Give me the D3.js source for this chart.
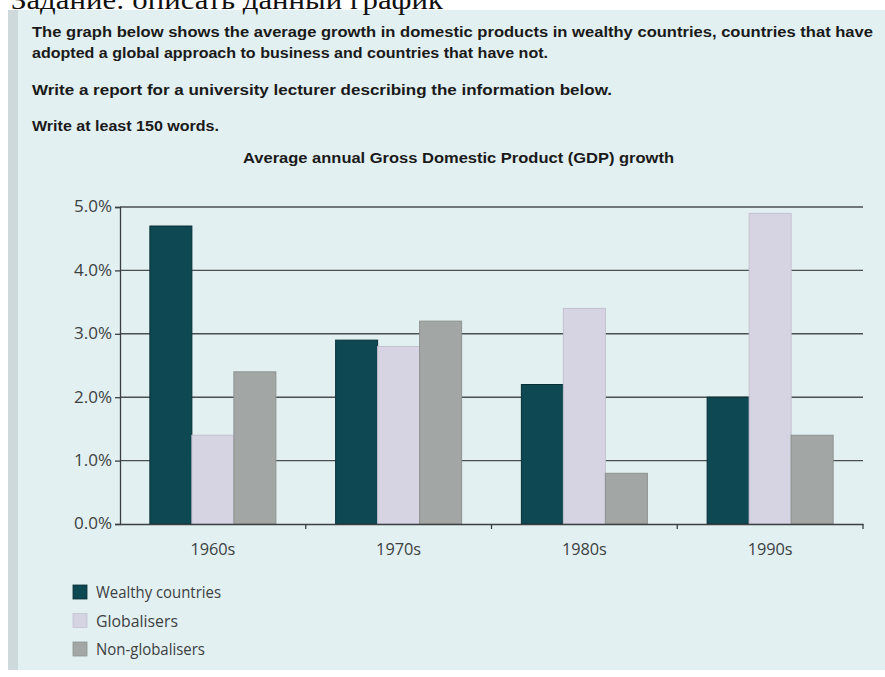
<!DOCTYPE html>
<html>
<head>
<meta charset="utf-8">
<script src="https://cdn.jsdelivr.net/npm/d3@7"></script>
<style>
  html, body { margin: 0; padding: 0; background: #ffffff; }
  svg { display: block; }
</style>
</head>
<body>
<script>
// ---- Data ----
const categories = ["1960s", "1970s", "1980s", "1990s"];
const seriesNames = ["Wealthy countries", "Globalisers", "Non-globalisers"];
const wealthy = [4.7, 2.9, 2.2, 2.0];
const globalisers = [1.4, 2.8, 3.4, 4.9];
const nonGlobalisers = [2.4, 3.2, 0.8, 1.4];
const yTicks = [0, 1, 2, 3, 4, 5];
const yTickLabels = ["0.0%", "1.0%", "2.0%", "3.0%", "4.0%", "5.0%"];
const headerText = "Задание: описать данный график";
const promptLines = [
  "The graph below shows the average growth in domestic products in wealthy countries, countries that have",
  "adopted a global approach to business and countries that have not.",
  "Write a report for a university lecturer describing the information below.",
  "Write at least 150 words."
];
const chartTitle = "Average annual Gross Domestic Product (GDP) growth";

const seriesValues = [wealthy, globalisers, nonGlobalisers];
const colors = ["#0d4853", "#d6d3e3", "#a2a7a5"];
const strokes = ["#062f37", "#c4c1d2", "#8d9290"];

const W = 885, H = 677;
const svg = d3.select("body").append("svg").attr("width", W).attr("height", H);

// panel
svg.append("rect").attr("x", 8).attr("y", 10).attr("width", W - 8).attr("height", 660).attr("fill", "#e2f0f1");
svg.append("rect").attr("x", 8).attr("y", 10).attr("width", 10).attr("height", 660).attr("fill", "#cdd9da");

// header (partly hidden at the top, as in the source screenshot)
svg.append("text").attr("x", 11).attr("y", 9)
  .attr("font-family", "Liberation Serif, DejaVu Serif, serif")
  .attr("font-size", 27).attr("fill", "#111")
  .attr("textLength", 432).attr("lengthAdjust", "spacingAndGlyphs")
  .text(headerText);

// prompt text
const promptY = [37, 58, 95, 131];
const promptW = [841, 516, 580, 187];
promptLines.forEach((t, i) => {
  svg.append("text").attr("x", 32).attr("y", promptY[i])
    .attr("font-family", "Liberation Sans, Arial, sans-serif")
    .attr("font-weight", "bold").attr("font-size", 14.5).attr("fill", "#1a1a1a")
    .attr("textLength", promptW[i]).attr("lengthAdjust", "spacingAndGlyphs")
    .text(t);
});

// chart title
svg.append("text").attr("x", 243).attr("y", 163)
  .attr("font-family", "Liberation Sans, Arial, sans-serif")
  .attr("font-weight", "bold").attr("font-size", 14.5).attr("fill", "#1a1a1a")
  .attr("textLength", 431).attr("lengthAdjust", "spacingAndGlyphs")
  .text(chartTitle);

// scales
const left = 120, right = 863, y0 = 524, yTop = 207;
const x0 = d3.scaleBand().domain(categories).range([left, right]).padding(0);
const bw = x0.bandwidth();
const groupW = 126;
const x1 = d3.scaleBand().domain(seriesNames).range([(bw - groupW) / 2, (bw + groupW) / 2]).padding(0);
const y = d3.scaleLinear().domain([0, 5]).range([y0, yTop]);

// gridlines
const grid = svg.append("g");
grid.selectAll("line").data(yTicks.filter(d => d > 0)).join("line")
  .attr("x1", left).attr("x2", right)
  .attr("y1", d => y(d)).attr("y2", d => y(d))
  .attr("stroke", "#4a4f50").attr("stroke-width", 1.4);

// y axis
const yAxis = d3.axisLeft(y).tickValues(yTicks).tickFormat((d, i) => yTickLabels[i]).tickSize(5).tickPadding(3);
const gy = svg.append("g").attr("transform", `translate(${left},0)`).call(yAxis);
gy.select(".domain").attr("stroke", "#3a3f40").attr("stroke-width", 1.3);
gy.selectAll(".tick line").attr("stroke", "#3a3f40").attr("stroke-width", 1.3);
gy.selectAll(".tick text").attr("font-family", "Open Sans, Lato, sans-serif")
  .attr("font-size", 15.5).attr("fill", "#3c4142")
  .attr("textLength", 38).attr("lengthAdjust", "spacingAndGlyphs");

// bars
const groups = svg.append("g").selectAll("g").data(categories).join("g")
  .attr("transform", d => `translate(${x0(d)},0)`);
groups.selectAll("rect")
  .data((c, ci) => seriesNames.map((s, si) => ({ s, si, v: seriesValues[si][ci] })))
  .join("rect")
  .attr("x", d => x1(d.s))
  .attr("width", x1.bandwidth())
  .attr("y", d => y(d.v))
  .attr("height", d => y0 - y(d.v))
  .attr("fill", d => colors[d.si])
  .attr("stroke", d => strokes[d.si])
  .attr("stroke-width", 1);

// x axis
const xAxis = d3.axisBottom(x0).tickSize(0).tickPadding(20);
const gx = svg.append("g").attr("transform", `translate(0,${y0})`).call(xAxis);
gx.select(".domain").attr("stroke", "#3a3f40").attr("stroke-width", 1.3);
gx.selectAll(".tick text").attr("font-family", "Open Sans, Lato, sans-serif")
  .attr("font-size", 16).attr("fill", "#3c4142")
  .attr("textLength", 45).attr("lengthAdjust", "spacingAndGlyphs");
// boundary ticks
const bounds = categories.map(c => x0(c) + bw);
svg.append("g").selectAll("line").data(bounds).join("line")
  .attr("x1", d => d).attr("x2", d => d)
  .attr("y1", y0).attr("y2", y0 + 5)
  .attr("stroke", "#3a3f40").attr("stroke-width", 1.3);

// legend
const legendW = [125, 82, 109];
const legend = svg.append("g").attr("transform", "translate(73,585)");
seriesNames.forEach((s, i) => {
  const g = legend.append("g").attr("transform", `translate(0,${i * 28.5})`);
  g.append("rect").attr("width", 14).attr("height", 14)
    .attr("fill", colors[i]).attr("stroke", strokes[i]).attr("stroke-width", 0.8);
  g.append("text").attr("x", 23).attr("y", 13)
    .attr("font-family", "Open Sans, Lato, sans-serif")
    .attr("font-size", 15.5).attr("fill", "#3c4142")
    .attr("textLength", legendW[i]).attr("lengthAdjust", "spacingAndGlyphs")
    .text(s);
});
</script>
</body>
</html>
